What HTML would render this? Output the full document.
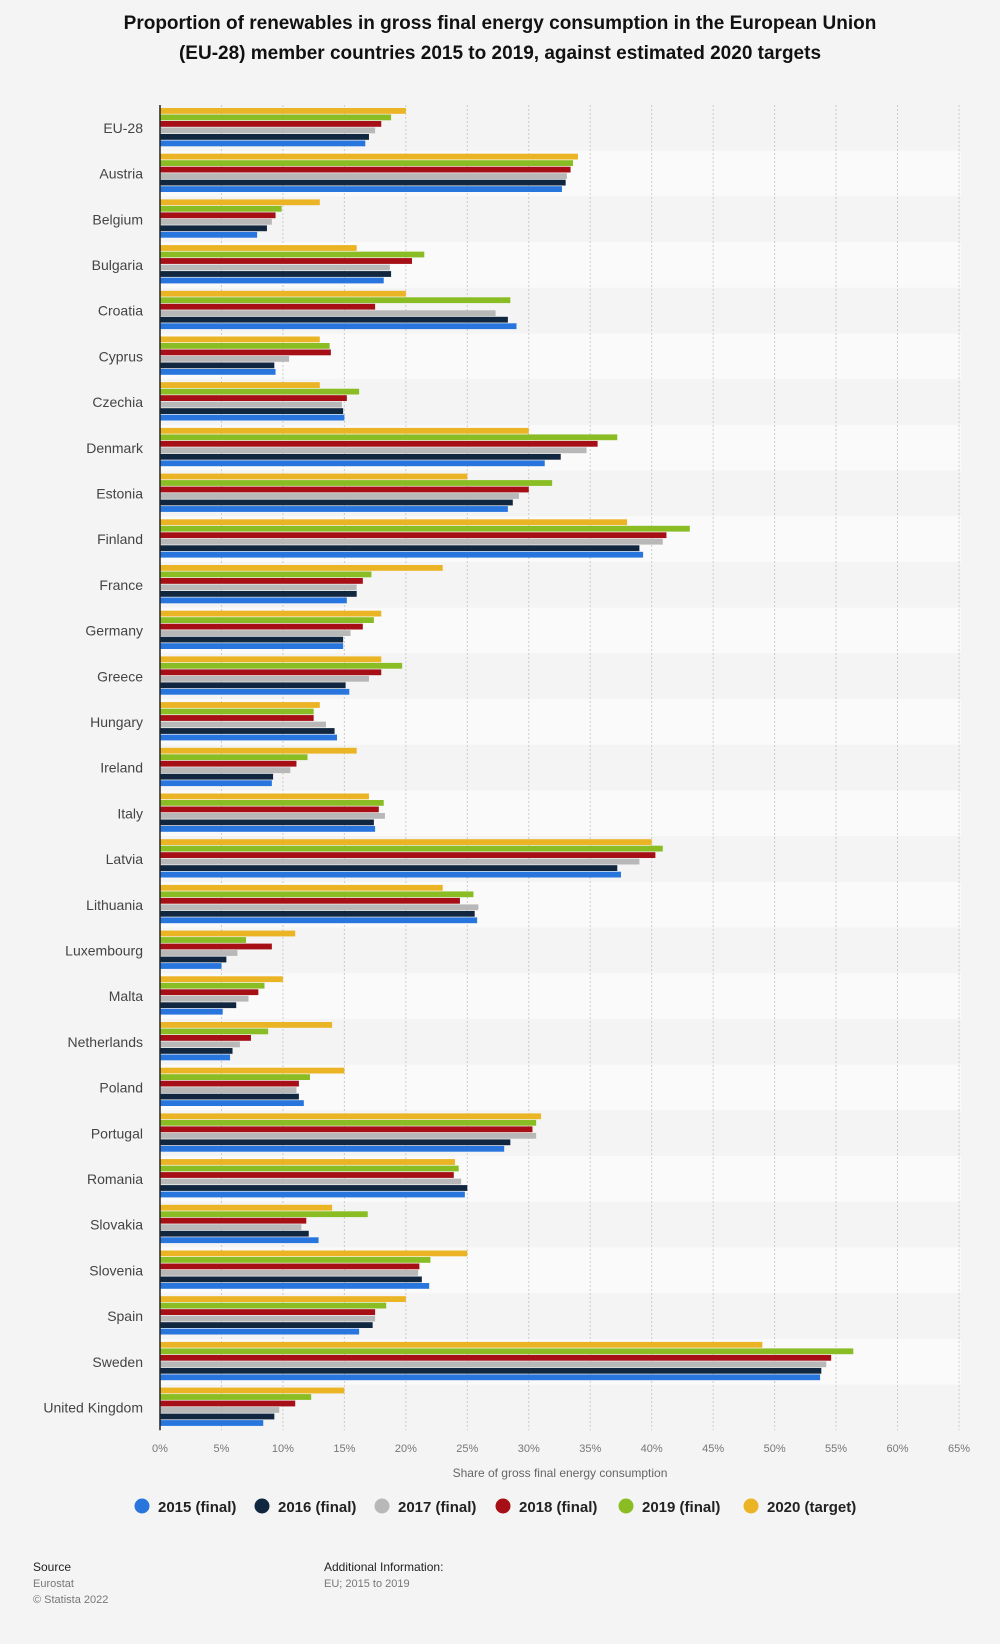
<!DOCTYPE html>
<html><head><meta charset="utf-8"><style>
body{margin:0;background:#f4f4f4;font-family:"Liberation Sans",sans-serif;}
svg{display:block}
</style></head><body>
<svg id="chart" width="1000" height="1644" xmlns="http://www.w3.org/2000/svg">
<text x="500" y="29" text-anchor="middle" font-size="19" font-weight="bold" fill="#111">Proportion of renewables in gross final energy consumption in the European Union</text>
<text x="500" y="59" text-anchor="middle" font-size="19" font-weight="bold" fill="#111">(EU-28) member countries 2015 to 2019, against estimated 2020 targets</text>
<g id="plot"></g>
<text x="560" y="1477" text-anchor="middle" font-size="12" fill="#666">Share of gross final energy consumption</text>
<g id="legend"></g>
<text x="33" y="1571" font-size="12" fill="#222">Source</text>
<text x="33" y="1587" font-size="11" fill="#777">Eurostat</text>
<text x="33" y="1603" font-size="11" fill="#777">© Statista 2022</text>
<text x="324" y="1571" font-size="12" fill="#222">Additional Information:</text>
<text x="324" y="1587" font-size="11" fill="#777">EU; 2015 to 2019</text>
</svg>
<script>
const categories=["EU-28","Austria","Belgium","Bulgaria","Croatia","Cyprus","Czechia","Denmark","Estonia","Finland","France","Germany","Greece","Hungary","Ireland","Italy","Latvia","Lithuania","Luxembourg","Malta","Netherlands","Poland","Portugal","Romania","Slovakia","Slovenia","Spain","Sweden","United Kingdom"];
const s2015=[16.7,32.7,7.9,18.2,29.0,9.4,15.0,31.3,28.3,39.3,15.2,14.9,15.4,14.4,9.1,17.5,37.5,25.8,5.0,5.1,5.7,11.7,28.0,24.8,12.9,21.9,16.2,53.7,8.4];
const s2016=[17.0,33.0,8.7,18.8,28.3,9.3,14.9,32.6,28.7,39.0,16.0,14.9,15.1,14.2,9.2,17.4,37.2,25.6,5.4,6.2,5.9,11.3,28.5,25.0,12.1,21.3,17.3,53.8,9.3];
const s2017=[17.5,33.1,9.1,18.7,27.3,10.5,14.8,34.7,29.2,40.9,16.0,15.5,17.0,13.5,10.6,18.3,39.0,25.9,6.3,7.2,6.5,11.1,30.6,24.5,11.5,21.0,17.5,54.2,9.7];
const s2018=[18.0,33.4,9.4,20.5,17.5,13.9,15.2,35.6,30.0,41.2,16.5,16.5,18.0,12.5,11.1,17.8,40.3,24.4,9.1,8.0,7.4,11.3,30.3,23.9,11.9,21.1,17.5,54.6,11.0];
const s2019=[18.8,33.6,9.9,21.5,28.5,13.8,16.2,37.2,31.9,43.1,17.2,17.4,19.7,12.5,12.0,18.2,40.9,25.5,7.0,8.5,8.8,12.2,30.6,24.3,16.9,22.0,18.4,56.4,12.3];
const s2020=[20,34,13,16,20,13,13,30,25,38,23,18,18,13,16,17,40,23,11,10,14,15,31,24,14,25,20,49,15];
const ticks=[0,5,10,15,20,25,30,35,40,45,50,55,60,65];
const seriesNames=["2020 (target)","2019 (final)","2018 (final)","2017 (final)","2016 (final)","2015 (final)"];
const seriesData=[s2020,s2019,s2018,s2017,s2016,s2015];
const colors=["#ebb424","#8abd24","#a50f15","#b8b8b8","#11263f","#2876dd"];
const NS="http://www.w3.org/2000/svg";
const X0=160,X1=959,XMAX=65,TOP=105,BAND=45.7;
const x=v=>X0+(v/XMAX)*(X1-X0);
const plot=document.getElementById('plot');
function mk(tag,attrs,parent){const e=document.createElementNS(NS,tag);for(const k in attrs)e.setAttribute(k,attrs[k]);parent.appendChild(e);return e;}
categories.forEach((c,i)=>{
  const y=TOP+i*BAND;
  const band=mk('rect',{x:X0,y:y,width:X1-X0+2,height:BAND,fill:i%2?'#fafafa':'#f4f4f4'},plot);
  
  
});
ticks.forEach(t=>{
  if(t>0){const l=mk('line',{x1:x(t),x2:x(t),y1:TOP,y2:TOP+categories.length*BAND,stroke:'#ccc','stroke-dasharray':'2,2'},plot);
  
  }
  const tx=mk('text',{x:x(t),y:1452,'text-anchor':'middle','font-size':11,fill:'#777'},plot);
  tx.textContent=t+'%';
  
  
});
categories.forEach((c,i)=>{
  const y=TOP+i*BAND;
  const lb=mk('text',{x:143,y:y+BAND/2+5,'text-anchor':'end','font-size':14,fill:'#444'},plot);
  lb.textContent=c;
  
  
  seriesData.forEach((s,j)=>{
    const r=mk('rect',{x:X0,y:y+3+j*6.5,width:x(s[i])-X0,height:5.8,fill:colors[j]},plot);
    
    
  });
});
const ax=mk('line',{x1:X0,x2:X0,y1:TOP,y2:TOP+categories.length*BAND,stroke:'#222','stroke-width':1.5},plot);


const leg=document.getElementById('legend');
const legOrder=[5,4,3,2,1,0];const legX=[142,262,382,503,626,751];
legOrder.forEach((j,k)=>{
  const c=mk('circle',{cx:legX[k],cy:1506,r:7.5,fill:colors[j]},leg);
  
  
  const t=mk('text',{x:legX[k]+16,y:1512,'font-size':15,'font-weight':'bold',fill:'#222'},leg);
  t.textContent=seriesNames[j];
  
  
});
</script>
</body></html>
